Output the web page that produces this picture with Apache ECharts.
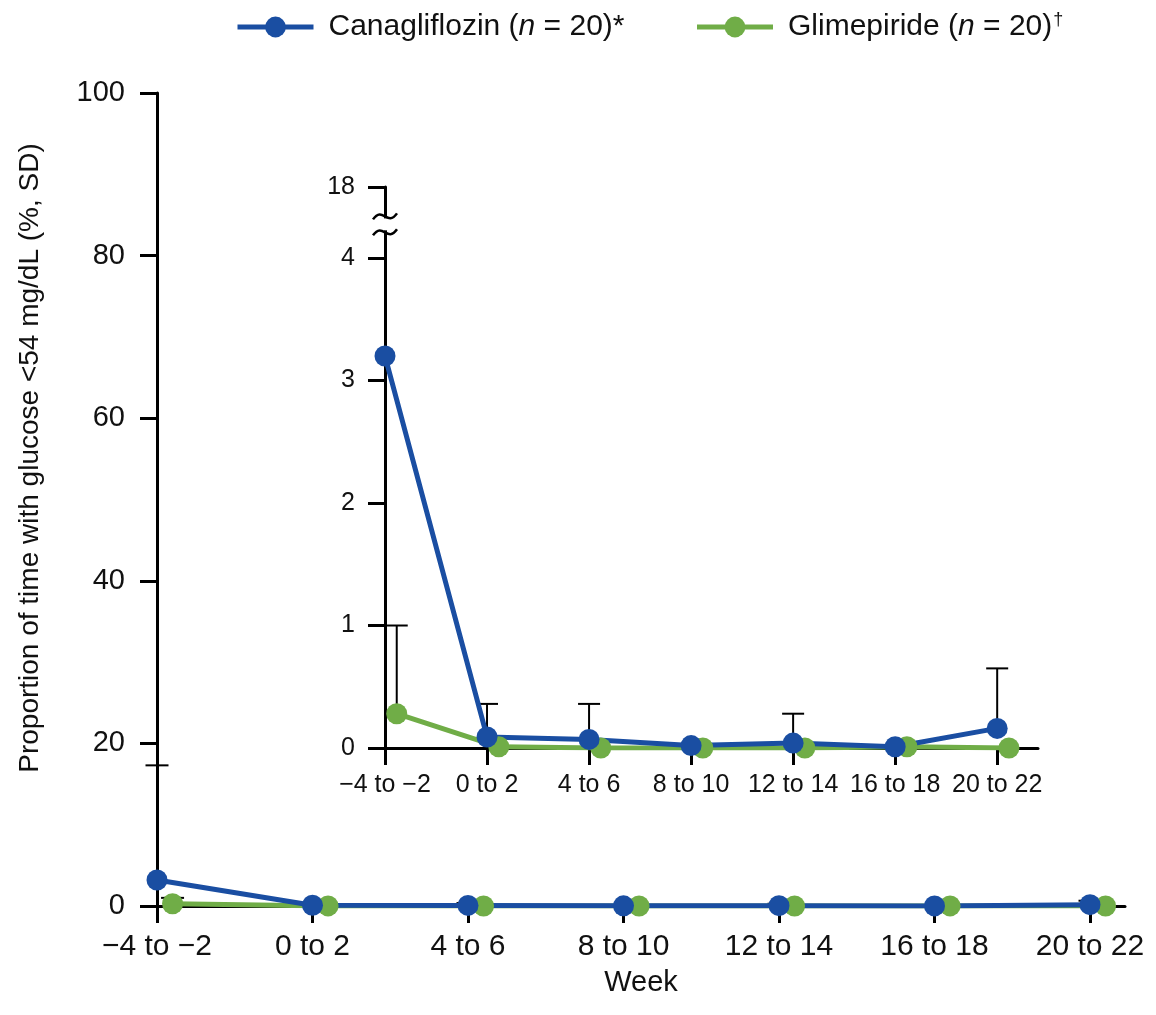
<!DOCTYPE html>
<html>
<head>
<meta charset="utf-8">
<script src="https://cdn.jsdelivr.net/npm/echarts@6/dist/echarts.min.js"></script>
<style>
  html, body { margin: 0; padding: 0; background: #fff; }
  #chart { width: 1156px; height: 1015px; }
</style>
</head>
<body>
<div id="chart"></div>
<script>
// 数据
var weeks = ['\u22124 to \u22122', '0 to 2', '4 to 6', '8 to 10', '12 to 14', '16 to 18', '20 to 22'];
var canaMean = [3.2, 0.09, 0.07, 0.02, 0.04, 0.01, 0.16];
var canaSD = [14.1, 0.27, 0.29, 0, 0.24, 0, 0.49];
var glimMean = [0.28, 0.01, 0, 0, 0, 0.01, 0];
var glimSD = [0.72, 0, 0, 0, 0, 0, 0];
var insetTicks = [0, 1, 2, 3, 4];
var insetTopLabel = '18';

var FONT = '"Liberation Sans", Arial, sans-serif';
var BLUE = '#1a4ea2';
var GREEN = '#70ad47';
var insetTop = 4.58;      // 轴顶端位置（断轴后表示 18）
var breakAt = [4.21, 4.34];

function points(means, offset) {
	return means.map(function(v, i) { return [i + offset, v]; });
}
function bars(means, sds, offset, top) {
	var out = [];
	means.forEach(function(v, i) {
		if (!sds[i]) return;
		var up = v + sds[i];
		out.push([i + offset, v, Math.min(up, top), up > top ? 0 : 1]);
	});
	return out;
}
function errorRender(halfCap) {
	return function(params, api) {
		var a = api.coord([api.value(0), api.value(1)]);
		var b = api.coord([api.value(0), api.value(2)]);
		var style = { stroke: '#000', lineWidth: 2 };
		var children = [{ type: 'line', shape: { x1: a[0], y1: a[1], x2: b[0], y2: b[1] }, style: style }];
		if (api.value(3)) {
			children.push({ type: 'line', shape: { x1: b[0] - halfCap, y1: b[1], x2: b[0] + halfCap, y2: b[1] }, style: style });
		}
		return { type: 'group', children: children };
	};
}
function lineSeries(name, color, data, idx) {
	return {
		name: name, type: 'line', xAxisIndex: idx, yAxisIndex: idx,
		data: data, symbol: 'circle', symbolSize: 21, z: 3,
		itemStyle: { color: color },
		lineStyle: { color: color, width: 5 },
		emphasis: { disabled: true }
	};
}

var idx7 = weeks.map(function(w, i) { return i; });
var axisLineStyle = { color: '#000', width: 3 };

var chart = echarts.init(document.getElementById('chart'));
var option = {
	animation: false,
	backgroundColor: '#fff',
	legend: {
		data: ['Canagliflozin', 'Glimepiride'],
		left: 230, top: 6,
		itemWidth: 76, itemHeight: 26, itemGap: 70,
		lineStyle: { width: 5 },
		formatter: function(name) {
			if (name === 'Canagliflozin') return '{a|Canagliflozin (}{i|n}{a| = 20)*}';
			return '{a|Glimepiride (}{i|n}{a| = 20)}{s|\u2020}';
		},
		textStyle: {
			fontFamily: FONT, fontSize: 30, color: '#111', padding: [0, 0, 0, 10],
			rich: {
				a: { fontFamily: FONT, fontSize: 30, color: '#111' },
				i: { fontFamily: FONT, fontSize: 30, color: '#111', fontStyle: 'italic' },
				s: { fontFamily: FONT, fontSize: 18, color: '#111', padding: [0, 0, 14, 1] }
			}
		}
	},
	grid: [
		{ left: 157, right: 31, top: 93, bottom: 109 },
		{ left: 385, right: 118, top: 187, bottom: 267 }
	],
	xAxis: [
		{
			gridIndex: 0, type: 'value', min: 0, max: 6.225,
			name: 'Week', nameLocation: 'middle', nameGap: 62, nameMoveOverlap: false,
			nameTextStyle: { fontFamily: FONT, fontSize: 29, color: '#111', verticalAlign: 'top' },
			axisLine: { lineStyle: axisLineStyle },
			axisTick: { length: 17, lineStyle: axisLineStyle, customValues: idx7 },
			axisLabel: {
				customValues: idx7, margin: 26,
				fontFamily: FONT, fontSize: 30, color: '#111',
				formatter: function(v) { return weeks[Math.round(v)]; }
			},
			splitLine: { show: false }
		},
		{
			gridIndex: 1, type: 'value', min: 0, max: 6.4,
			axisLine: { lineStyle: axisLineStyle },
			axisTick: { length: 17, lineStyle: axisLineStyle, customValues: idx7 },
			axisLabel: {
				customValues: idx7, margin: 25,
				fontFamily: FONT, fontSize: 25, color: '#111',
				formatter: function(v) { return weeks[Math.round(v)]; }
			},
			splitLine: { show: false }
		}
	],
	yAxis: [
		{
			gridIndex: 0, type: 'value', min: 0, max: 100, interval: 20,
			axisLine: { show: true, lineStyle: axisLineStyle },
			axisTick: { show: true, length: 17, lineStyle: axisLineStyle },
			axisLabel: { margin: 32, fontFamily: FONT, fontSize: 29, color: '#111' },
			splitLine: { show: false }
		},
		{
			gridIndex: 1, type: 'value', min: 0, max: insetTop,
			axisLine: { show: true, lineStyle: axisLineStyle },
			axisTick: { show: true, length: 17, lineStyle: axisLineStyle, customValues: insetTicks.concat([insetTop]) },
			axisLabel: {
				customValues: insetTicks.concat([insetTop]), margin: 30,
				fontFamily: FONT, fontSize: 25, color: '#111',
				formatter: function(v) { return v > 4.1 ? insetTopLabel : String(v); }
			},
			splitLine: { show: false }
		}
	],
	series: [
		{
			type: 'custom', name: 'errMain', xAxisIndex: 0, yAxisIndex: 0, z: 1,
			renderItem: errorRender(11.5),
			data: bars(glimMean, glimSD, 0.1, 100).concat(bars(canaMean, canaSD, 0, 100))
		},
		lineSeries('Glimepiride', GREEN, points(glimMean, 0.1), 0),
		lineSeries('Canagliflozin', BLUE, points(canaMean, 0), 0),
		{
			type: 'custom', name: 'errInset', xAxisIndex: 1, yAxisIndex: 1, z: 1,
			renderItem: errorRender(11),
			data: bars(glimMean, glimSD, 0.115, insetTop).concat(bars(canaMean, canaSD, 0, insetTop))
		},
		lineSeries('Glimepiride', GREEN, points(glimMean, 0.115), 1),
		lineSeries('Canagliflozin', BLUE, points(canaMean, 0), 1)
	]
};
chart.setOption(option);

// 断轴符号和纵轴标题
var p1 = chart.convertToPixel({ gridIndex: 1 }, [0, breakAt[0]]);
var p2 = chart.convertToPixel({ gridIndex: 1 }, [0, breakAt[1]]);
function wave(p) {
	return {
		type: 'bezierCurve', x: p[0], y: p[1], z: 100,
		shape: { x1: -12, y1: 3, x2: 12, y2: -3, cpx1: -2, cpy1: -11, cpx2: 2, cpy2: 11 },
		style: { fill: null, stroke: '#000', lineWidth: 2.5 }
	};
}
chart.setOption({
	graphic: [
		{
			type: 'rect', z: 99,
			shape: { x: p1[0] - 4, y: p2[1] + 2, width: 8, height: p1[1] - p2[1] - 4 },
			style: { fill: '#fff' }
		},
		wave(p1), wave(p2),
		{
			type: 'text', x: 30, y: 458, rotation: Math.PI / 2,
			style: {
				text: 'Proportion of time with glucose <54 mg/dL (%, SD)',
				font: '28px ' + FONT, fill: '#111', align: 'center', verticalAlign: 'middle'
			}
		}
	]
});
</script>
</body>
</html>
